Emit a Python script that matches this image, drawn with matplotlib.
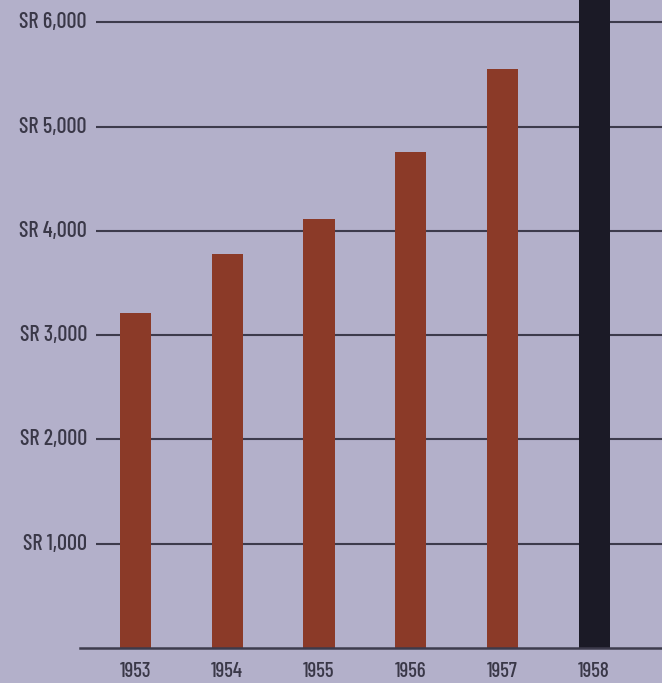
import matplotlib
matplotlib.use('Agg')
import matplotlib.pyplot as plt

years = ['1953', '1954', '1955', '1956', '1957', '1958']
values = [3210, 3780, 4110, 4760, 5550, 6900]
tick_values = [1000, 2000, 3000, 4000, 5000, 6000]
tick_labels = ['SR 1,000', 'SR 2,000', 'SR 3,000', 'SR 4,000', 'SR 5,000', 'SR 6,000']

BG = '#b3b0ca'
BAR = '#8b3a28'
LAST = '#1b1a26'
LINE = '#3d3b4c'
TXT = '#3a3848'
FONT = ['Barlow Condensed', 'DejaVu Sans']

fig = plt.figure(figsize=(6.62, 6.83), dpi=100, facecolor=BG)
# axes spans from the baseline start (x=80px) to the right edge, baseline at y=648px
ax = fig.add_axes([80 / 662, 35 / 683, 1 - 80 / 662, 648 / 683])
ax.set_facecolor(BG)

x = list(range(len(years)))
colors = [BAR] * (len(years) - 1) + [LAST]

# grid lines start a little right of the baseline start
grid_start = -0.43
ax.hlines(tick_values, grid_start, 6.5, color=LINE, lw=1.5, zorder=1)
ax.axhline(0, color=LINE, lw=1.8, zorder=3, clip_on=False)

ax.bar(x, values, width=0.34, color=colors, zorder=2)

ax.set_xlim(-0.605, 5.74)
ax.set_ylim(0, 6213)

for v, lab in zip(tick_values, tick_labels):
    ax.text(-0.53, v, lab, ha='right', va='center', fontsize=16, weight='medium',
            color=TXT, family=FONT, clip_on=False)

for xi, yr in zip(x, years):
    ax.text(xi, -135, yr, ha='center', va='top', fontsize=15, weight='medium',
            color=TXT, family=FONT, clip_on=False)

ax.axis('off')

fig.savefig('out.png', dpi=100, facecolor=BG)
